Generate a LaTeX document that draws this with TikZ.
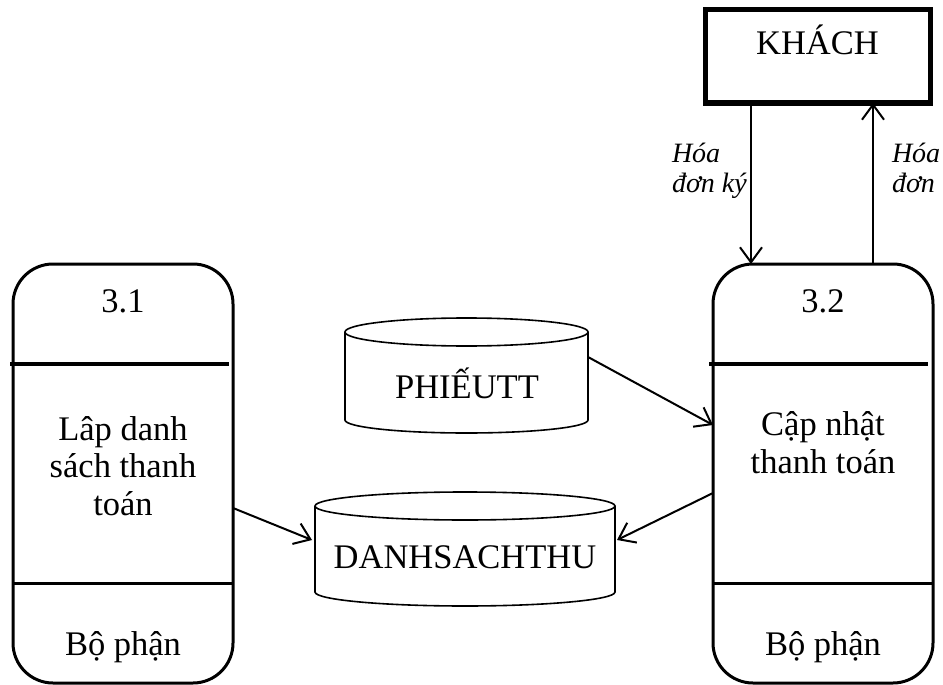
\documentclass[tikz,border=0pt]{standalone}
\usepackage{fontspec}
\setmainfont{Liberation Serif}
\usetikzlibrary{arrows.meta,calc}
\begin{document}
\begin{tikzpicture}[x=1pt,y=-1pt,
  every node/.style={inner sep=0pt, outer sep=0pt},
  proc/.style={draw, line width=3pt, rounded corners=40pt, minimum width=220pt, minimum height=419pt},
  ext/.style={draw, line width=5pt, minimum width=225pt, minimum height=93pt},
  big/.style={font=\fontsize{34.5}{37.5}\selectfont, align=center, anchor=base},
  lbl/.style={font=\fontsize{28}{30}\selectfont\itshape, align=left, anchor=base west},
  flow/.style={line width=2pt, -{Straight Barb[length=15pt,width=22pt,line width=2pt]}},
  cylline/.style={line width=1.6pt},
  div/.style={line width=3.5pt},
]
\fill[white] (0,0) rectangle (943,685);
\useasboundingbox (0,0) rectangle (943,685);

% processes
\node[proc] (p1) at (123,473.5) {};
\node[proc] (p2) at (823,473.5) {};
\draw[div] (10,364) -- (229,364);
\draw[line width=3pt] (13,583) -- (233,583);
\draw[div] (709,364) -- (928,364);
\draw[line width=3pt] (713,583) -- (933,583);
\node[big] (p1id) at (123,312) {3.1};
\node[big] (p1name) at (123,515) {Lâp danh\\sách thanh\\toán};
\node[big] (p1dept) at (123,655) {Bộ phận};
\node[big] (p2id) at (823,312) {3.2};
\node[big] (p2name) at (823,473) {Cập nhật\\thanh toán};
\node[big] (p2dept) at (823,655) {Bộ phận};

% external entity
\node[ext] (k) at (817.5,56.5) {};
\node[big] (kt) at (817.5,55) {KHÁCH};

% data stores
\node[minimum width=243pt, minimum height=115pt] (ph) at (466.5,375.5) {};
\draw[cylline] (466.5,332) ellipse [x radius=121.5, y radius=14];
\draw[cylline] (345,332) -- (345,420) arc[start angle=180, end angle=0, x radius=121.5, y radius=13] -- (588,332);
\node[big] (pht) at (467,398) {PHIẾUTT};

\node[minimum width=300pt, minimum height=115pt] (ds) at (465,549.5) {};
\draw[cylline] (465,506) ellipse [x radius=150, y radius=14];
\draw[cylline] (315,506) -- (315,592) arc[start angle=180, end angle=0, x radius=150, y radius=14] -- (615,506);
\node[big] (dst) at (465,568) {DANHSACHTHU};

% flows
\draw[flow] (k.south -| 751,0) -- (p2.north -| 751,0);
\draw[flow] (p2.north -| 873,0) -- (k.south -| 873,0);
\node[lbl] (l1) at (672,192) {Hóa\\đơn ký};
\node[lbl] (l2) at (892,192) {Hóa\\đơn};

\draw[flow] ($(ph.east)+(0,-18.5)$) -- (p2.west |- 0,425);
\draw[flow] (p2.west |- 0,493) -- ($(ds.east)+(2,-9.5)$);
\draw[flow] (p1.east |- 0,508) -- ($(ds.west)+(-3,-9.5)$);
\end{tikzpicture}
\end{document}
